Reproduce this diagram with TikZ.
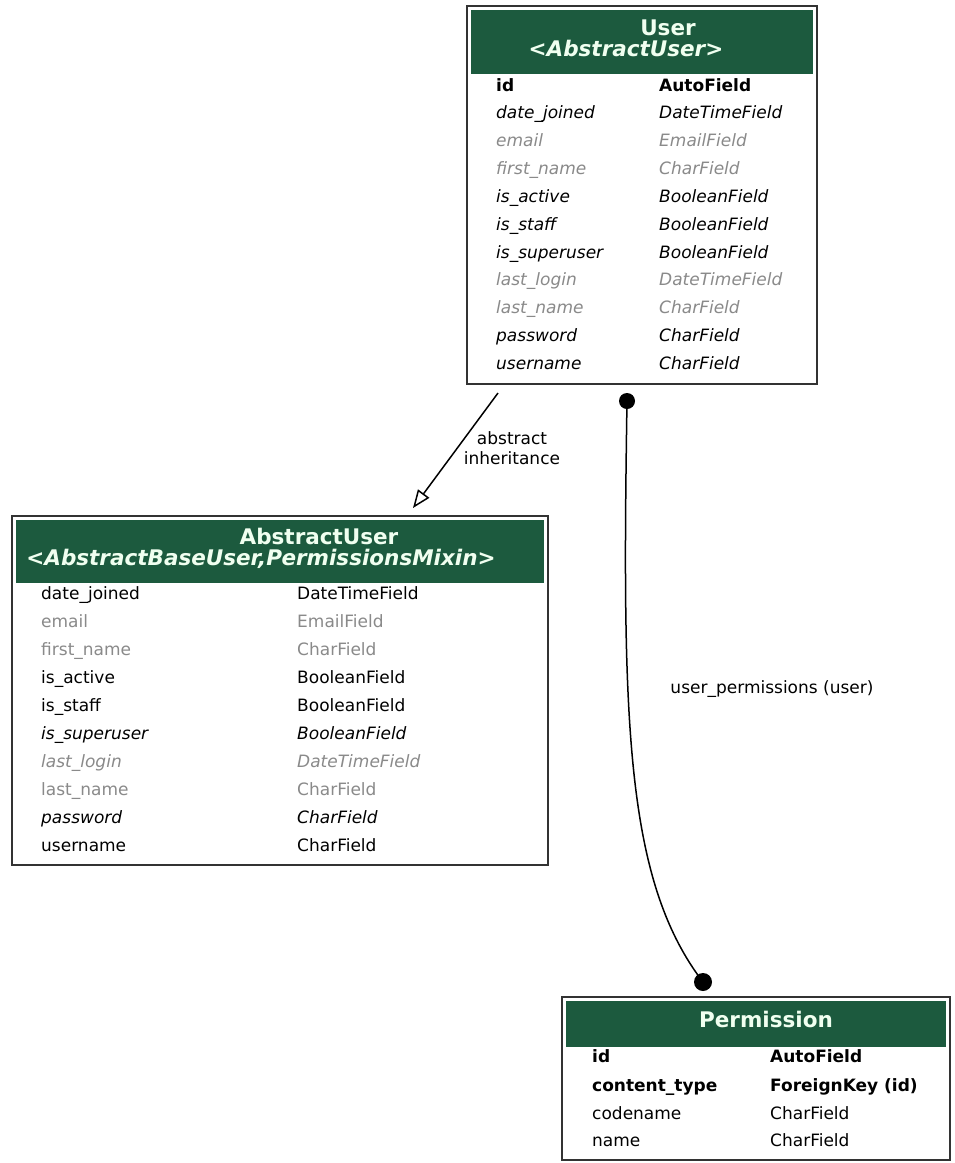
\documentclass[tikz,border=0pt]{standalone}
\usepackage{fontspec}
\setmainfont{DejaVu Sans}
\usetikzlibrary{arrows.meta}
\definecolor{hdrgreen}{HTML}{1C5A3E}
\definecolor{hdrtext}{HTML}{F0FFF0}
\definecolor{dimtext}{HTML}{8A8A8A}
\definecolor{boxline}{HTML}{333333}
\tikzset{
  outerbox/.style={draw=boxline, line width=1.5pt, fill=white},
  hdrbox/.style={fill=hdrgreen, draw=none},
  ttl/.style={anchor=base, text=hdrtext, font=\fontsize{21.5}{26}\selectfont\bfseries, inner sep=0pt, text depth=0pt},
  ttlit/.style={anchor=base, text=hdrtext, font=\fontsize{21.5}{26}\selectfont\bfseries\itshape, inner sep=0pt},
  fld/.style={anchor=base west, font=\fontsize{17}{20}\selectfont, inner sep=0pt},
  fldb/.style={fld, font=\fontsize{17}{20}\selectfont\bfseries},
  fldi/.style={fld, font=\fontsize{17}{20}\selectfont\itshape},
  dim/.style={text=dimtext},
  lbl/.style={font=\fontsize{17}{20}\selectfont, align=center, inner sep=0pt},
  dotnode/.style={circle, fill=black, inner sep=0pt, minimum size=16pt},
  conn/.style={line width=1.5pt, draw=black}
}
\begin{document}
\begin{tikzpicture}[x=1pt,y=-1pt]
\useasboundingbox (0,0) rectangle (955,1163);
\fill[white] (0,0) rectangle (955,1163);

% ---------- User ----------
\draw[outerbox] (467,6) rectangle (817,384);
\node[minimum width=350pt, minimum height=378pt, inner sep=0pt] (user) at (642,195) {};
\fill[hdrbox] (471,10) rectangle (813,74);
\node[ttl] (usert1) at (668,35.5) {User};
\node[ttlit] (usert2) at (626,56.5) {<AbstractUser>};
\node[fldb] (u1a) at (496,91.0) {id};
\node[fldb] (u1b) at (659,91.0) {AutoField};
\node[fldi] (u2a) at (496,118.8) {date\_joined};
\node[fldi] (u2b) at (659,118.8) {DateTimeField};
\node[fldi,dim] (u3a) at (496,146.7) {email};
\node[fldi,dim] (u3b) at (659,146.7) {EmailField};
\node[fldi,dim] (u4a) at (496,174.5) {first\_name};
\node[fldi,dim] (u4b) at (659,174.5) {CharField};
\node[fldi] (u5a) at (496,202.3) {is\_active};
\node[fldi] (u5b) at (659,202.3) {BooleanField};
\node[fldi] (u6a) at (496,230.2) {is\_staff};
\node[fldi] (u6b) at (659,230.2) {BooleanField};
\node[fldi] (u7a) at (496,258.0) {is\_superuser};
\node[fldi] (u7b) at (659,258.0) {BooleanField};
\node[fldi,dim] (u8a) at (496,285.8) {last\_login};
\node[fldi,dim] (u8b) at (659,285.8) {DateTimeField};
\node[fldi,dim] (u9a) at (496,313.6) {last\_name};
\node[fldi,dim] (u9b) at (659,313.6) {CharField};
\node[fldi] (u10a) at (496,341.5) {password};
\node[fldi] (u10b) at (659,341.5) {CharField};
\node[fldi] (u11a) at (496,369.3) {username};
\node[fldi] (u11b) at (659,369.3) {CharField};

% ---------- AbstractUser ----------
\draw[outerbox] (12,516) rectangle (548,865);
\node[minimum width=536pt, minimum height=349pt, inner sep=0pt] (abs) at (280,690.5) {};
\fill[hdrbox] (16,520) rectangle (544,583);
\node[ttl] (abst1) at (319,544) {AbstractUser};
\node[ttlit] (abst2) at (261,565) {<AbstractBaseUser,PermissionsMixin>};
\node[fld] (a1a) at (41,599) {date\_joined};
\node[fld] (a1b) at (297,599) {DateTimeField};
\node[fld,dim] (a2a) at (41,627) {email};
\node[fld,dim] (a2b) at (297,627) {EmailField};
\node[fld,dim] (a3a) at (41,655) {first\_name};
\node[fld,dim] (a3b) at (297,655) {CharField};
\node[fld] (a4a) at (41,683) {is\_active};
\node[fld] (a4b) at (297,683) {BooleanField};
\node[fld] (a5a) at (41,711) {is\_staff};
\node[fld] (a5b) at (297,711) {BooleanField};
\node[fldi] (a6a) at (41,739) {is\_superuser};
\node[fldi] (a6b) at (297,739) {BooleanField};
\node[fldi,dim] (a7a) at (41,767) {last\_login};
\node[fldi,dim] (a7b) at (297,767) {DateTimeField};
\node[fld,dim] (a8a) at (41,795) {last\_name};
\node[fld,dim] (a8b) at (297,795) {CharField};
\node[fldi] (a9a) at (41,823) {password};
\node[fldi] (a9b) at (297,823) {CharField};
\node[fld] (a10a) at (41,851) {username};
\node[fld] (a10b) at (297,851) {CharField};

% ---------- Permission ----------
\draw[outerbox] (562,997) rectangle (950,1160);
\node[minimum width=388pt, minimum height=163pt, inner sep=0pt] (perm) at (756,1078.5) {};
\fill[hdrbox] (566,1001) rectangle (946,1047);
\node[ttl] (permt) at (766,1027) {Permission};
\node[fldb] (p1a) at (592,1062) {id};
\node[fldb] (p1b) at (770,1062) {AutoField};
\node[fldb] (p2a) at (592,1091) {content\_type};
\node[fldb] (p2b) at (770,1091) {ForeignKey (id)};
\node[fld] (p3a) at (592,1119) {codename};
\node[fld] (p3b) at (770,1119) {CharField};
\node[fld] (p4a) at (592,1146) {name};
\node[fld] (p4b) at (770,1146) {CharField};

% ---------- connectors ----------
\coordinate (inhS) at (498,393);
\coordinate (inhE) at (413,508);
\draw[conn, -{Triangle[open, length=18pt, width=14pt, line width=1.5pt]}] (inhS) -- (inhE);
\node[lbl] (inhlbl) at (512,448) {abstract\\inheritance};

\node[dotnode] (d1) at (627,401) {};
\node[dotnode, minimum size=18pt] (d2) at (703,982) {};
\draw[conn] (d1.center) .. controls (622,720) and (625,880) .. (d2.center);
\node[lbl] (uplbl) at (772,689) {user\_permissions (user)};
\end{tikzpicture}
\end{document}
